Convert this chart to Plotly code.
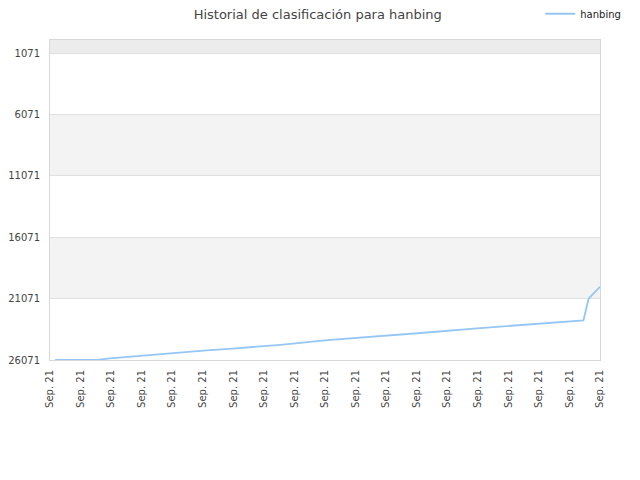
import plotly.graph_objects as go

# datos
fechas = ["2021-09-01 04:00", "2021-09-02 13:00", "2021-09-02 23:00", "2021-09-03 17:00",
          "2021-09-04 12:00", "2021-09-05 08:00", "2021-09-06 03:00", "2021-09-06 21:00",
          "2021-09-08 13:00", "2021-09-10 02:00", "2021-09-11 14:00", "2021-09-13 03:00",
          "2021-09-15 02:00", "2021-09-16 17:00", "2021-09-18 11:00", "2021-09-18 15:00",
          "2021-09-18 16:00", "2021-09-19 00:00"]
posicion = [26071, 26071, 25934, 25773, 25611, 25450, 25289, 25160, 24837, 24458,
            24192, 23869, 23466, 23168, 22845, 21095, 20966, 20103]
ticks_y = [1071, 6071, 11071, 16071, 21071, 26071]
bandas = [(-4, 1071, "#ececec"), (6071, 11071, "#f3f3f3"), (16071, 21071, "#f3f3f3")]

fig = go.Figure()
fig.add_trace(go.Scatter(x=fechas, y=posicion, mode="lines", name="hanbing",
                         line=dict(color="#95c6f5", width=1.8)))

for y0, y1, color in bandas:
    fig.add_shape(type="rect", xref="paper", yref="y", x0=0, x1=1, y0=y0, y1=y1,
                  fillcolor=color, line_width=0, layer="below")

# la pagina deja 8px de margen en el body, se compensa aqui
fig.update_layout(
    width=640, height=480,
    title=dict(text="Historial de clasificación para hanbing", x=0.484, y=0.986,
               yanchor="middle", font=dict(size=13, color="#444")),
    font=dict(family="DejaVu Sans", size=10, color="#444"),
    plot_bgcolor="white", paper_bgcolor="white",
    margin=dict(l=42, r=48, t=32, b=128, autoexpand=False),
    showlegend=True,
    legend=dict(xref="container", yref="container", x=0.966, y=0.988,
                xanchor="right", yanchor="middle",
                font=dict(size=10, color="#222"), itemwidth=30),
)
fig.update_xaxes(type="date", range=["2021-09-01", "2021-09-19"], dtick=86400000,
                 tick0="2021-09-01", tickformat="%b. %y", tickangle=-90,
                 showgrid=False, showline=True, linecolor="#d8d8d8", mirror=True,
                 ticks="", zeroline=False, automargin=False, ticklabelstandoff=5)
fig.update_yaxes(range=[26071, -4], tickvals=ticks_y, ticktext=[str(t) for t in ticks_y],
                 showgrid=True, gridcolor="#e0e0e0",
                 showline=True, linecolor="#d8d8d8", mirror=True, zeroline=False,
                 ticks="", automargin=False, ticklabelstandoff=7)

fig.write_html("out.html")
